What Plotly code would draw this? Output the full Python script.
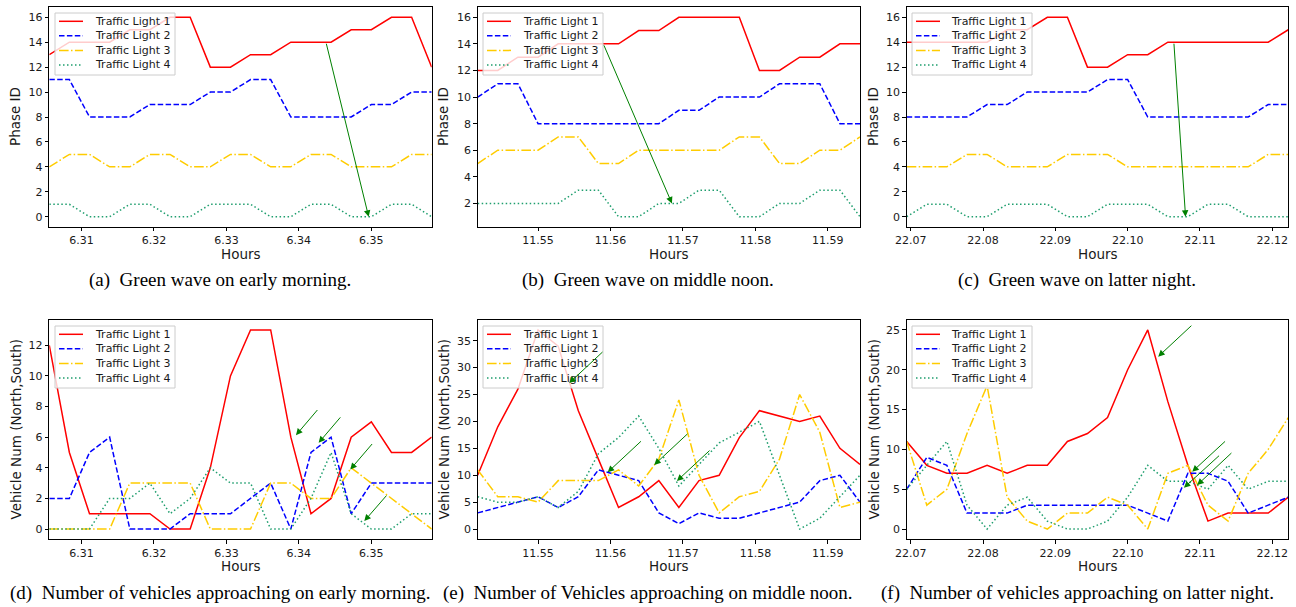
import plotly.graph_objects as go

# ---------------- data ----------------
series_names = ["Traffic Light 1", "Traffic Light 2", "Traffic Light 3", "Traffic Light 4"]

hours_morning = [6.30556, 6.30833, 6.31111, 6.31389, 6.31667, 6.31944, 6.32222, 6.32500, 6.32778, 6.33056,
                 6.33333, 6.33611, 6.33889, 6.34167, 6.34444, 6.34722, 6.35000, 6.35278, 6.35556, 6.35833]
hours_noon = [11.54167, 11.54444, 11.54722, 11.55000, 11.55278, 11.55556, 11.55833, 11.56111, 11.56389, 11.56667,
              11.56944, 11.57222, 11.57500, 11.57778, 11.58056, 11.58333, 11.58611, 11.58889, 11.59167, 11.59444]
hours_night = [22.06944, 22.07222, 22.07500, 22.07778, 22.08056, 22.08333, 22.08611, 22.08889, 22.09167, 22.09444,
               22.09722, 22.10000, 22.10278, 22.10556, 22.10833, 22.11111, 22.11389, 22.11667, 22.11944, 22.12222]

# (a) phase, early morning
phase_morning_tl1 = [13, 14, 14, 14, 15, 15, 16, 16, 12, 12, 13, 13, 14, 14, 14, 15, 15, 16, 16, 12]
phase_morning_tl2 = [11, 11, 8, 8, 8, 9, 9, 9, 10, 10, 11, 11, 8, 8, 8, 8, 9, 9, 10, 10]
phase_morning_tl3 = [4, 5, 5, 4, 4, 5, 5, 4, 4, 5, 5, 4, 4, 5, 5, 4, 4, 4, 5, 5]
phase_morning_tl4 = [1, 1, 0, 0, 1, 1, 0, 0, 1, 1, 1, 0, 0, 1, 1, 0, 0, 1, 1, 0]

# (b) phase, middle noon
phase_noon_tl1 = [12, 12, 13, 13, 14, 14, 14, 14, 15, 15, 16, 16, 16, 16, 12, 12, 13, 13, 14, 14]
phase_noon_tl2 = [10, 11, 11, 8, 8, 8, 8, 8, 8, 8, 9, 9, 10, 10, 10, 11, 11, 11, 8, 8]
phase_noon_tl3 = [5, 6, 6, 6, 7, 7, 5, 5, 6, 6, 6, 6, 6, 7, 7, 5, 5, 6, 6, 7]
phase_noon_tl4 = [2, 2, 2, 2, 2, 3, 3, 1, 1, 2, 2, 3, 3, 1, 1, 2, 2, 3, 3, 1]

# (c) phase, latter night
phase_night_tl1 = [14, 14, 14, 14, 14, 15, 15, 16, 16, 12, 12, 13, 13, 14, 14, 14, 14, 14, 14, 15]
phase_night_tl2 = [8, 8, 8, 8, 9, 9, 10, 10, 10, 10, 11, 11, 8, 8, 8, 8, 8, 8, 9, 9]
phase_night_tl3 = [4, 4, 4, 5, 5, 4, 4, 4, 5, 5, 5, 4, 4, 4, 4, 4, 4, 4, 5, 5]
phase_night_tl4 = [0, 1, 1, 0, 0, 1, 1, 1, 0, 0, 1, 1, 1, 0, 0, 1, 1, 0, 0, 0]

# (d) vehicles, early morning
veh_morning_tl1 = [12, 5, 1, 1, 1, 1, 0, 0, 4, 10, 13, 13, 6, 1, 2, 6, 7, 5, 5, 6]
veh_morning_tl2 = [2, 2, 5, 6, 0, 0, 0, 1, 1, 1, 2, 3, 0, 5, 6, 1, 3, 3, 3, 3]
veh_morning_tl3 = [0, 0, 0, 0, 3, 3, 3, 3, 0, 0, 0, 3, 3, 2, 2, 4, 3, 2, 1, 0]
veh_morning_tl4 = [0, 0, 0, 2, 2, 3, 1, 2, 4, 3, 3, 0, 0, 2, 5, 1, 0, 0, 1, 1]

# (e) vehicles, middle noon
veh_noon_tl1 = [10, 19, 26, 37, 34, 22, 13, 4, 6, 9, 4, 9, 10, 17, 22, 21, 20, 21, 15, 12]
veh_noon_tl2 = [3, 4, 5, 6, 4, 6, 11, 10, 9, 3, 1, 3, 2, 2, 3, 4, 5, 9, 10, 5]
veh_noon_tl3 = [11, 6, 6, 5, 9, 9, 9, 11, 8, 13, 24, 10, 3, 6, 7, 13, 25, 18, 4, 5]
veh_noon_tl4 = [6, 5, 5, 6, 4, 7, 14, 17, 21, 15, 8, 12, 16, 18, 20, 10, 0, 2, 6, 10]

# (f) vehicles, latter night
veh_night_tl1 = [11, 8, 7, 7, 8, 7, 8, 8, 11, 12, 14, 20, 25, 16, 8, 1, 2, 2, 2, 4]
veh_night_tl2 = [5, 9, 8, 2, 2, 2, 3, 3, 3, 3, 3, 3, 2, 1, 7, 7, 6, 2, 3, 4]
veh_night_tl3 = [11, 3, 5, 12, 18, 4, 1, 0, 2, 2, 4, 3, 0, 7, 8, 3, 1, 7, 10, 14]
veh_night_tl4 = [5, 8, 11, 3, 0, 3, 4, 1, 0, 0, 1, 4, 8, 6, 6, 5, 8, 5, 6, 6]

# annotation arrows: (tail hour, tail value, head hour, head value)
arrows_a = [(6.34374, 14, 6.34963, 0)]
arrows_b = [(11.55901, 14, 11.56848, 2)]
arrows_c = [(22.10639, 14, 22.10801, 0)]
arrows_d = [(6.34273, 7.87, 6.33960, 6.13), (6.34590, 7.39, 6.34273, 5.63),
            (6.35028, 5.65, 6.34710, 3.89), (6.35226, 2.28, 6.34903, 0.52)]
arrows_e = [(11.55910, 33.15, 11.55430, 27.13), (11.56441, 16.57, 11.55961, 10.55),
            (11.57083, 17.94, 11.56603, 11.92), (11.57388, 14.84, 11.56917, 8.94)]
arrows_f = [(22.10902, 25.71, 22.10422, 21.65), (22.11368, 11.18, 22.10893, 7.20),
            (22.11285, 9.38, 22.10778, 5.19), (22.11456, 9.72, 22.10962, 5.53)]

captions = ["(a)\u2002Green wave on early morning.",
            "(b)\u2002Green wave on middle noon.",
            "(c)\u2002Green wave on latter night.",
            "(d)\u2002Number of vehicles approaching on early morning.",
            "(e)\u2002Number of Vehicles approaching on middle noon.",
            "(f)\u2002Number of vehicles approaching on latter night."]
x_title = "Hours"
y_titles = ["Phase ID", "Phase ID", "Phase ID",
            "Vehicle Num (North,South)", "Vehicle Num (North,South)", "Vehicle Num (North,South)"]

# ---------------- layout / style ----------------
W, H = 1296, 607
colors = ["#ff0000", "#0000ff", "#ffcc00", "#1f9e6e"]
dashes = ["solid", "5.5px,2.4px", "9.6px,2.4px,1.5px,2.4px", "1.5px,2.5px"]

panels = [
    (hours_morning, [phase_morning_tl1, phase_morning_tl2, phase_morning_tl3, phase_morning_tl4], arrows_a, 2),
    (hours_noon, [phase_noon_tl1, phase_noon_tl2, phase_noon_tl3, phase_noon_tl4], arrows_b, 2),
    (hours_night, [phase_night_tl1, phase_night_tl2, phase_night_tl3, phase_night_tl4], arrows_c, 2),
    (hours_morning, [veh_morning_tl1, veh_morning_tl2, veh_morning_tl3, veh_morning_tl4], arrows_d, 2),
    (hours_noon, [veh_noon_tl1, veh_noon_tl2, veh_noon_tl3, veh_noon_tl4], arrows_e, 5),
    (hours_night, [veh_night_tl1, veh_night_tl2, veh_night_tl3, veh_night_tl4], arrows_f, 5),
]

# pixel boxes of plot areas (left, right, top, bottom)
col_px = [(49.3, 431.7), (477.7, 860.0), (906.7, 1288.3)]
row_px = [(7.3, 226.7), (320.0, 539.0)]
legend_px = [(55, 13), (483, 13), (912, 13), (55, 326), (483, 326), (912, 326)]
legend_size = (120, 62)
legend_rows = [8.3, 22.8, 37.4, 52.0]
ytitle_px = [15, 443, 873]
xtitle_py = [254, 566]
caption_px = [(220, 280), (648, 280), (1077, 280), (220, 593), (648, 593), (1077, 593)]

def px(x):
    return x / W

def py(y):
    return 1 - y / H

tickfont = dict(family="DejaVu Sans", size=11, color="#1a1a1a")
fig = go.Figure()
layout = dict(width=W, height=H, autosize=False, margin=dict(l=0, r=0, t=0, b=0, autoexpand=False),
              paper_bgcolor="white", plot_bgcolor="white", showlegend=False)
annotations = []
shapes = []

for i, (xs, ys_list, arrows, ydt) in enumerate(panels):
    n = i + 1
    r, c = divmod(i, 3)
    xname = "x" if n == 1 else f"x{n}"
    yname = "y" if n == 1 else f"y{n}"
    for k, ys in enumerate(ys_list):
        fig.add_trace(go.Scatter(x=xs, y=ys, mode="lines", name=series_names[k],
                                 line=dict(color=colors[k], width=1.5, dash=dashes[k]),
                                 xaxis=xname, yaxis=yname))
    allv = [v for ys in ys_list for v in ys]
    lo, hi = min(allv), max(allv)
    pad = 0.05 * (hi - lo)
    l, rr = col_px[c]
    t, b = row_px[r]
    axis_common = dict(showline=True, mirror=True, linecolor="black", linewidth=1,
                       ticks="outside", ticklen=3.5, tickwidth=1, tickcolor="black",
                       showgrid=False, zeroline=False, tickfont=tickfont, automargin=False)
    layout["xaxis" if n == 1 else f"xaxis{n}"] = dict(
        domain=[px(l), px(rr)], anchor=yname, range=[xs[0], xs[-1]],
        tick0=0, dtick=0.01, tickformat=".2f", **axis_common)
    layout["yaxis" if n == 1 else f"yaxis{n}"] = dict(
        domain=[py(b), py(t)], anchor=xname, range=[lo - pad, hi + pad],
        tick0=0, dtick=ydt, **axis_common)

    # legend box (drawn in paper coordinates)
    lx, ly = legend_px[i]
    lw, lh = legend_size
    shapes.append(dict(type="rect", xref="paper", yref="paper", layer="above",
                       x0=px(lx), x1=px(lx + lw), y0=py(ly + lh), y1=py(ly),
                       fillcolor="rgba(255,255,255,0.8)", line=dict(color="#cccccc", width=1)))
    for k in range(4):
        yy = ly + legend_rows[k]
        shapes.append(dict(type="line", xref="paper", yref="paper", layer="above",
                           x0=px(lx + 4), x1=px(lx + 28), y0=py(yy), y1=py(yy),
                           line=dict(color=colors[k], width=1.5, dash=dashes[k])))
        annotations.append(dict(x=px(lx + 37.5), y=py(yy), xref="paper", yref="paper",
                                text=series_names[k], showarrow=False, xanchor="left", yanchor="middle",
                                font=dict(family="DejaVu Sans", size=11, color="#1a1a1a")))

    for (tx, ty, hx, hy) in arrows:
        annotations.append(dict(x=hx, y=hy, ax=tx, ay=ty, xref=xname, yref=yname,
                                axref=xname, ayref=yname, showarrow=True, text="",
                                arrowhead=2, arrowsize=1.3, arrowwidth=1, arrowcolor="#008000"))
    # axis titles
    annotations.append(dict(x=(px(l) + px(rr)) / 2, y=py(xtitle_py[r]), xref="paper", yref="paper",
                            text=x_title, showarrow=False, xanchor="center", yanchor="middle",
                            font=dict(family="DejaVu Sans", size=13.5, color="#1a1a1a")))
    annotations.append(dict(x=px(ytitle_px[c]), y=(py(t) + py(b)) / 2, xref="paper", yref="paper",
                            text=y_titles[i], showarrow=False, textangle=-90,
                            xanchor="center", yanchor="middle",
                            font=dict(family="DejaVu Sans", size=13.5, color="#1a1a1a")))
    cx, cy = caption_px[i]
    annotations.append(dict(x=px(cx), y=py(cy), xref="paper", yref="paper", text=captions[i],
                            showarrow=False, xanchor="center", yanchor="middle",
                            font=dict(family="Liberation Serif", size=19, color="black")))

layout["annotations"] = annotations
layout["shapes"] = shapes
fig.update_layout(**layout)
fig.write_html("out.html", config={"displayModeBar": False},
               post_script="document.body.style.margin='0px';document.body.style.overflow='hidden';")
